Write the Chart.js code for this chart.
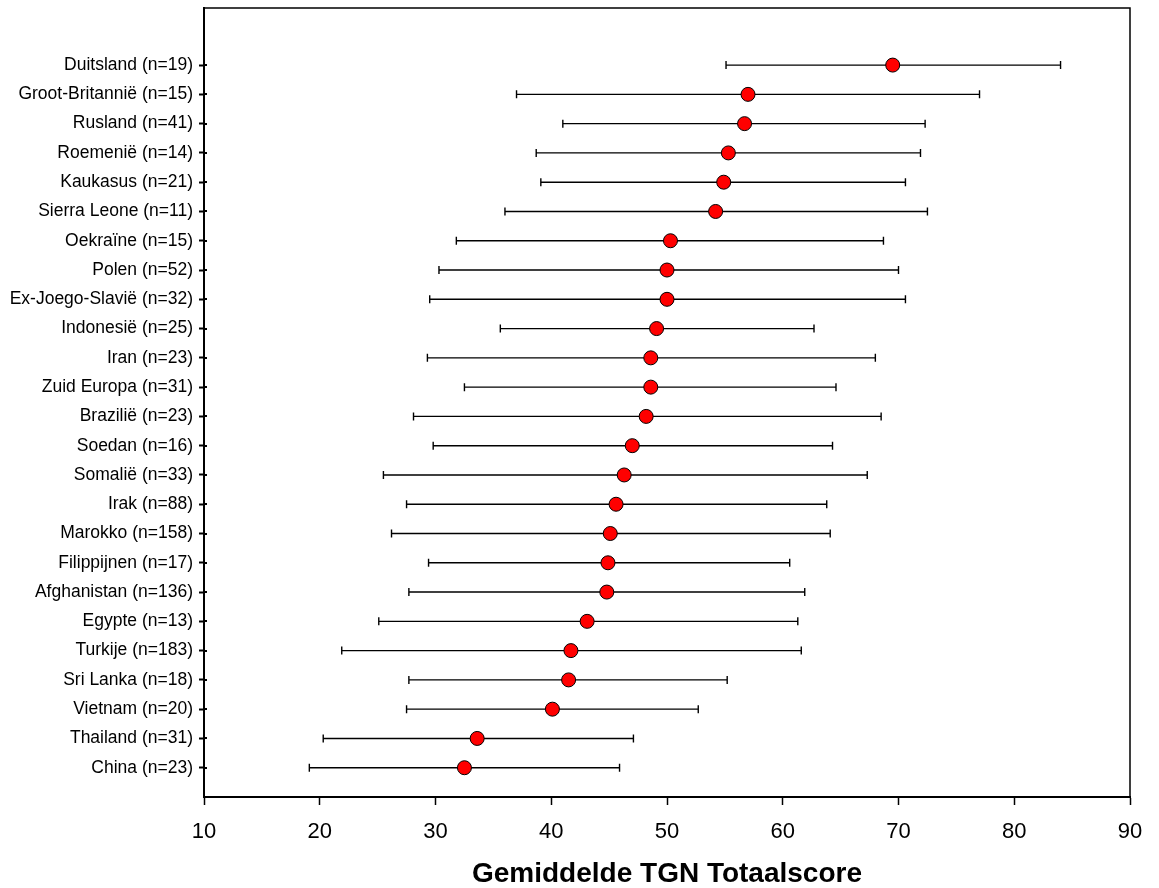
<!DOCTYPE html>
<html>
<head>
<meta charset="utf-8">
<script src="https://cdn.jsdelivr.net/npm/chart.js@4.4.1/dist/chart.umd.min.js"></script>
<style>
  html, body { margin: 0; padding: 0; background: #ffffff; }
  #wrap { width: 1159px; height: 888px; }
</style>
</head>
<body>
<div id="wrap"><canvas id="chart" width="1159" height="888"></canvas></div>
<script>
// Countries, top to bottom
const categories = [
  'Duitsland (n=19)', 'Groot-Britannië (n=15)', 'Rusland (n=41)', 'Roemenië (n=14)',
  'Kaukasus (n=21)', 'Sierra Leone (n=11)', 'Oekraïne (n=15)', 'Polen (n=52)',
  'Ex-Joego-Slavië (n=32)', 'Indonesië (n=25)', 'Iran (n=23)', 'Zuid Europa (n=31)',
  'Brazilië (n=23)', 'Soedan (n=16)', 'Somalië (n=33)', 'Irak (n=88)',
  'Marokko (n=158)', 'Filippijnen (n=17)', 'Afghanistan (n=136)', 'Egypte (n=13)',
  'Turkije (n=183)', 'Sri Lanka (n=18)', 'Vietnam (n=20)', 'Thailand (n=31)', 'China (n=23)'
];

// Mean total score per country
const means = [
  69.5, 57.0, 56.7, 55.3, 54.9, 54.2, 50.3, 50.0, 50.0, 49.1, 48.6, 48.6, 48.2,
  47.0, 46.3, 45.6, 45.1, 44.9, 44.8, 43.1, 41.7, 41.5, 40.1, 33.6, 32.5
];

// Lower and upper ends of the error bars
const lower = [
  55.1, 37.0, 41.0, 38.7, 39.1, 36.0, 31.8, 30.3, 29.5, 35.6, 29.3, 32.5, 28.1,
  29.8, 25.5, 27.5, 26.2, 29.4, 27.7, 25.1, 21.9, 27.7, 27.5, 20.3, 19.1
];
const upper = [
  84.0, 77.0, 72.3, 71.9, 70.6, 72.5, 68.7, 70.0, 70.6, 62.7, 68.0, 64.6, 68.5,
  64.3, 67.3, 63.8, 64.1, 60.6, 61.9, 61.3, 61.6, 55.2, 52.7, 47.1, 45.9
];

// X axis tick values
const xTicks = [10, 20, 30, 40, 50, 60, 70, 80, 90];

const FONT = "'Liberation Sans', Arial, Helvetica, sans-serif";
const n = categories.length;
// row position: first category at the top
const rowPos = (i) => n - i;

const points = means.map((m, i) => ({ x: m, y: rowPos(i) }));

// Horizontal whiskers with end caps, drawn beneath the markers
const errorBars = {
  id: 'errorBars',
  beforeDatasetsDraw(chart) {
    const ctx = chart.ctx;
    const xs = chart.scales.x, ys = chart.scales.y;
    ctx.save();
    ctx.strokeStyle = '#000000';
    ctx.lineWidth = 1.4;
    for (let i = 0; i < n; i++) {
      const y = ys.getPixelForValue(rowPos(i));
      const x0 = xs.getPixelForValue(lower[i]);
      const x1 = xs.getPixelForValue(upper[i]);
      ctx.beginPath();
      ctx.moveTo(x0, y); ctx.lineTo(x1, y);
      ctx.moveTo(x0, y - 4); ctx.lineTo(x0, y + 4);
      ctx.moveTo(x1, y - 4); ctx.lineTo(x1, y + 4);
      ctx.stroke();
    }
    ctx.restore();
  }
};

// Frame around the plot area, plus the small inward tick stubs on the left axis
const frame = {
  id: 'frame',
  afterDraw(chart) {
    const { left, right, top, bottom } = chart.chartArea;
    const ctx = chart.ctx;
    const ys = chart.scales.y;
    ctx.save();
    ctx.strokeStyle = '#000000';
    ctx.lineWidth = 1.5;
    ctx.beginPath();
    ctx.moveTo(left, top); ctx.lineTo(right, top); ctx.lineTo(right, bottom);
    ctx.stroke();
    ctx.lineWidth = 2;
    for (let i = 0; i < n; i++) {
      const y = Math.round(ys.getPixelForValue(rowPos(i)));
      ctx.beginPath();
      ctx.moveTo(left, y); ctx.lineTo(left + 3, y);
      ctx.stroke();
    }
    ctx.restore();
  }
};

new Chart(document.getElementById('chart'), {
  type: 'scatter',
  data: {
    datasets: [{
      data: points,
      backgroundColor: '#ff0000',
      borderColor: '#000000',
      borderWidth: 1,
      pointRadius: 7,
      pointHoverRadius: 7,
      pointStyle: 'circle'
    }]
  },
  options: {
    responsive: false,
    animation: false,
    devicePixelRatio: 1,
    layout: { padding: { left: 0, right: 29, top: 8, bottom: 0 } },
    plugins: {
      legend: { display: false },
      tooltip: { enabled: false }
    },
    scales: {
      x: {
        type: 'linear',
        min: 10,
        max: 90,
        afterBuildTicks(axis) { axis.ticks = xTicks.map(v => ({ value: v })); },
        afterFit(axis) { axis.height = 91; },
        grid: {
          drawOnChartArea: false,
          drawTicks: true,
          tickLength: 8,
          tickWidth: 1.5,
          tickColor: '#000000'
        },
        border: { display: true, color: '#000000', width: 2 },
        ticks: {
          color: '#000000',
          padding: 14,
          maxRotation: 0,
          font: { family: FONT, size: 22 }
        },
        title: {
          display: true,
          text: 'Gemiddelde TGN Totaalscore',
          color: '#000000',
          font: { family: FONT, size: 28, weight: 'bold', lineHeight: 1 },
          padding: { top: 8, bottom: 0 }
        }
      },
      y: {
        type: 'linear',
        min: 0,
        max: 26.95,
        afterBuildTicks(axis) { axis.ticks = categories.map((c, i) => ({ value: rowPos(i) })); },
        afterFit(axis) {
          axis.width = 204;
          axis.paddingTop = 0;
          axis.paddingBottom = 0;
        },
        grid: {
          drawOnChartArea: false,
          drawTicks: true,
          tickLength: 5,
          tickWidth: 2,
          tickColor: '#000000'
        },
        border: { display: true, color: '#000000', width: 2 },
        ticks: {
          color: '#000000',
          padding: 6,
          autoSkip: false,
          font: { family: FONT, size: 17.5 },
          callback(value) {
            const i = n - Math.round(value);
            return categories[i] !== undefined ? categories[i] : '';
          }
        }
      }
    }
  },
  plugins: [errorBars, frame]
});
</script>
</body>
</html>
